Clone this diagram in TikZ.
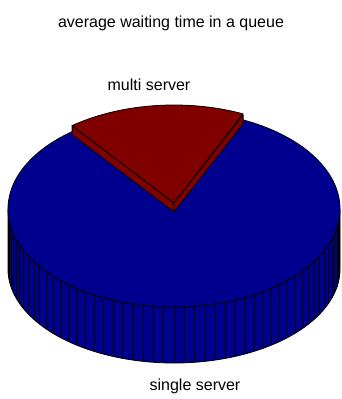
\documentclass[tikz,border=0pt]{standalone}
\usepackage{fontspec}
\setmainfont{Liberation Sans}
\usepackage{tikz}

\definecolor{pieblue}{RGB}{0,0,143}
\definecolor{piered}{RGB}{128,0,0}

\tikzset{
  label/.style={font=\fontsize{16}{18}\selectfont, anchor=base, inner sep=0pt},
  bluepart/.style={fill=pieblue, draw=black, line width=0.8pt, line join=round},
  redpart/.style={fill=piered, draw=black, line width=0.8pt, line join=round},
  stripe/.style={draw=black, line width=0.7pt}
}

\begin{document}
\begin{tikzpicture}[x=1pt, y=-1pt]
            \useasboundingbox (0,0) rectangle (341,399);

            % single server: side wall, stripes, top face
            \filldraw[bluepart] (8,209) -- (8,269)
                -- plot[domain=180:0, samples=91] ({174+166*cos(\x)}, {269+94*sin(\x)})
                -- (340,209)
                -- plot[domain=0:180, samples=91] ({174+166*cos(\x)}, {209+98*sin(\x)}) -- cycle;
            \foreach \t in {3.6,7.2,...,176.5}
                \draw[stripe] ({174+166*cos(\t)}, {209+98*sin(\t)}) -- ({174+166*cos(\t)}, {269+94*sin(\t)});
            \filldraw[bluepart] plot[domain=0:360, samples=181] ({174+166*cos(\x)}, {209+98*sin(\x)}) -- cycle;

            % multi server: raised wedge
            \coordinate (apex) at (174,203);
            \coordinate (apexlow) at (174,212);
            \coordinate (cornerL) at (72.1,125.7);
            \coordinate (cornerLlow) at (72.1,134.7);
            \coordinate (cornerR) at (243.1,114.9);
            \coordinate (cornerRlow) at (243.1,123.9);
            \filldraw[redpart] (apex) -- (cornerL) -- (cornerLlow) -- (apexlow) -- cycle;
            \filldraw[redpart] (apex) -- (cornerR) -- (cornerRlow) -- (apexlow) -- cycle;
            \filldraw[redpart] (apex) -- plot[domain=65.4:127.9, samples=40] ({174+166*cos(\x)}, {203-98*sin(\x)}) -- cycle;

            \node[label] (title) at (171,27) {average waiting time in a queue};
            \node[label] (multi) at (149,90) {multi server};
            \node[label] (single) at (195,390) {single server};
        \end{tikzpicture}
\end{document}
